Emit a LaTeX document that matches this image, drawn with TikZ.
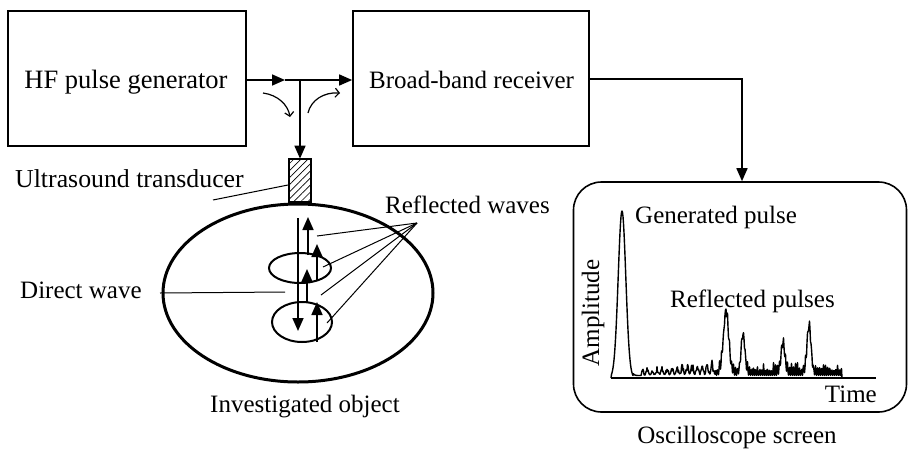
\documentclass[tikz,border=0pt]{standalone}
\usepackage{fontspec}
\setmainfont{Liberation Serif}
\usetikzlibrary{arrows.meta,shapes.geometric,patterns.meta}

\begin{document}
\begin{tikzpicture}[x=1pt,y=-1pt,
  lbl/.style={font=\fontsize{25}{30}\selectfont, inner sep=0pt},
  biglbl/.style={font=\fontsize{26.5}{30}\selectfont, inner sep=0pt},
  block/.style={draw, line width=1.7pt, inner sep=0pt},
  conn/.style={line width=1.6pt, -{Triangle[length=13pt,width=11pt]}},
  wave/.style={line width=1.7pt, -{Triangle[length=13pt,width=11pt]}},
  leader/.style={line width=1pt},
  flow/.style={line width=1.2pt, -{Straight Barb[length=4pt,width=9pt]}},
  trace/.style={line width=1.4pt, line join=round},
  declare function={bump(\x,\c,\h,\s)=\h*exp(-0.5*min(25,((\x-\c)/\s)*((\x-\c)/\s)));},
]
\useasboundingbox (0,0) rectangle (908,453);

% --- blocks -------------------------------------------------------------
\node[block, minimum width=238, minimum height=135] (gen) at (127,78.5) {};
\node[biglbl, anchor=base] (genlbl) at (126,88) {HF pulse generator};

\node[block, minimum width=236, minimum height=135] (recv) at (471,78.5) {};
\node[lbl, anchor=base west] (recvlbl) at (369,88) {Broad-band receiver};

% transducer
\node[block, minimum width=22, minimum height=43,
      pattern={Lines[angle=45,distance=5pt,line width=0.7pt]}] (trans) at (300,180.5) {};
\node[lbl, font=\fontsize{25.8}{30}\selectfont, anchor=base west] (translbl) at (15,187) {Ultrasound transducer};
\coordinate (transtip) at (288,185);
\coordinate (translead) at (213,200);
\draw[leader] (translead) -- (transtip);

% --- signal paths -------------------------------------------------------
\coordinate (j) at (300,80);
\coordinate (jm) at (285,80);
\draw[conn] (gen.east |- j) -- (jm);
\draw[line width=1.6pt] (jm) -- (j);
\draw[conn] (j) -- (recv.west |- j);
\draw[conn] (j) -- (trans.north);

% pulse direction hints
\coordinate (fa1) at (263,93);
\coordinate (fa2) at (290,117);
\coordinate (fb1) at (308,113);
\coordinate (fb2) at (340,93);
\draw[flow] (fa1) .. controls (278,95) and (288,105) .. (fa2);
\draw[flow] (fb1) .. controls (311,100) and (324,92) .. (fb2);

% --- investigated object ------------------------------------------------
\node[ellipse, draw, line width=3pt, inner sep=0pt, minimum width=270, minimum height=178] (obj) at (298,293) {};
\node[ellipse, draw, line width=2pt, inner sep=0pt, minimum width=62, minimum height=30] (d1) at (300,268) {};
\node[ellipse, draw, line width=2pt, inner sep=0pt, minimum width=60, minimum height=40] (d2) at (302,322) {};
\node[lbl, anchor=base] (objlbl) at (305,412) {Investigated object};

% direct and reflected waves
\draw[wave] (298,218) -- (298,331);
\draw[wave] (308,255) -- (308,217);
\draw[wave] (307,302) -- (307,269);
\draw[wave] (317,280) -- (317,244);
\draw[wave] (317,342) -- (317,302);

\node[lbl, anchor=base west] (dirlbl) at (20,298) {Direct wave};
\coordinate (dirlead) at (160,293);
\coordinate (dirtip) at (285,292);
\draw[leader] (dirlead) -- (dirtip);

\node[lbl, anchor=base west] (reflbl) at (385,213) {Reflected waves};
\coordinate (rw) at (417,223);
\foreach \p in {(317,236),(323,267),(321,295),(327,323)}
  \draw[leader] (rw) -- \p;

% --- oscilloscope -------------------------------------------------------
\node[draw, line width=1.6pt, rounded corners=28pt, inner sep=0pt,
      minimum width=333, minimum height=230] (scope) at (740,297) {};
\node[lbl, anchor=base] (scopelbl) at (737,443) {Oscilloscope screen};

\coordinate (turn) at (742,79);
\draw[conn] (recv.east |- turn) -- (turn) -- (turn |- scope.north);

\node[lbl, rotate=90, anchor=base] (amp) at (599,313) {Amplitude};
\node[lbl, anchor=base east] (time) at (877,402) {Time};
\node[lbl, anchor=base west] (genp) at (635,223) {Generated pulse};
\node[lbl, anchor=base west] (refp) at (670,307) {Reflected pulses};

% time axis
\draw[trace] (611,378) -- (876,378);

% received signal: transmitted pulse, echoes and noise
\pgfmathsetseed{11}
\draw[trace] (611,378)
  \foreach \x [count=\i] in {611.5,612,...,842} {
    -- (\x, {378 - bump(\x,622,167,3.8) - bump(\x,726,60,2.6) - bump(\x,743,38,1.8)
              - bump(\x,783,29,1.8) - bump(\x,809,46,1.9)
              - (\x>633)*(\x<842)*2.5
              - (\x>641)*(\x<842)*ifthenelse(\x<716,
                   (8+0.11*(\x-641))*(0.15+0.85*(0.5+0.5*sin(36*mod(\i,10))))*(0.3+0.7*rnd),
                   13*(0.5+0.5*sin(90*mod(\i,4)))*(0.3+0.7*rnd))})
  };
\end{tikzpicture}
\end{document}
